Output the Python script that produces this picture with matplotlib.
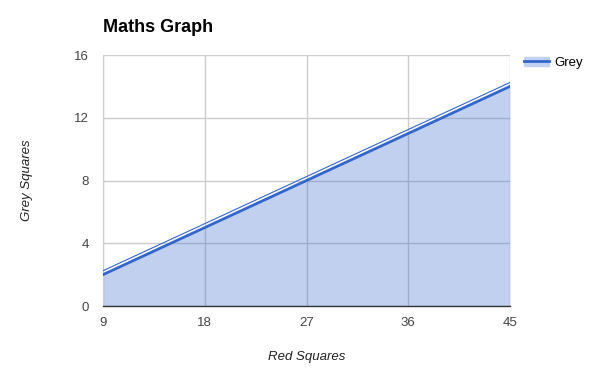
import matplotlib
matplotlib.use('Agg')
import matplotlib.pyplot as plt
from matplotlib.lines import Line2D
from matplotlib.patches import Patch

plt.rcParams['font.family'] = ['Liberation Sans', 'DejaVu Sans']

red_squares = [9, 45]
grey_squares = [2, 14]
edge_line = [2.25, 14.25]
x_ticks = [9, 18, 27, 36, 45]
y_ticks = [0, 4, 8, 12, 16]

fig = plt.figure(figsize=(5.92, 3.73), dpi=100)
ax = fig.add_axes([0.174, 0.1796, 0.6875, 0.6729])

ax.fill_between(red_squares, 0, grey_squares, color='#3366cc', alpha=0.3, lw=0, zorder=2)
ax.plot(red_squares, grey_squares, color='#3366cc', lw=2, zorder=3)
ax.plot(red_squares, edge_line, color='#3366cc', lw=0.8, zorder=3)

ax.set_xlim(9, 45)
ax.set_ylim(0, 16)
ax.set_xticks(x_ticks)
ax.set_yticks(y_ticks)
ax.grid(True, color='#cccccc', lw=1, zorder=1)
ax.set_axisbelow(True)
for s in ['top', 'right']:
    ax.spines[s].set_visible(False)
ax.spines['left'].set_color('#cccccc')
ax.spines['bottom'].set_color('#333333')
ax.spines['bottom'].set_linewidth(1)
ax.tick_params(length=0, labelsize=9.5, colors='#444444')
ax.tick_params(axis='x', pad=8)
ax.tick_params(axis='y', pad=10)

ax.set_xlabel('Red Squares', fontsize=9.5, style='italic', color='#222222', labelpad=16)
ax.set_ylabel('Grey Squares', fontsize=9.5, style='italic', color='#222222', labelpad=30)

fig.text(103 / 592, 1 - 27 / 373, 'Maths Graph', fontsize=13, fontweight='bold',
         va='center', ha='left', color='#000000')

handles = [(Patch(color='#c2d1f0'), Line2D([], [], color='#3366cc', lw=2))]
leg = fig.legend(handles, ['Grey'], loc='upper left', bbox_to_anchor=(512 / 592, 1 - 45 / 373),
                 frameon=False, fontsize=9.5, handlelength=1.9, handletextpad=0.4)

fig.savefig('out.png', dpi=100)
